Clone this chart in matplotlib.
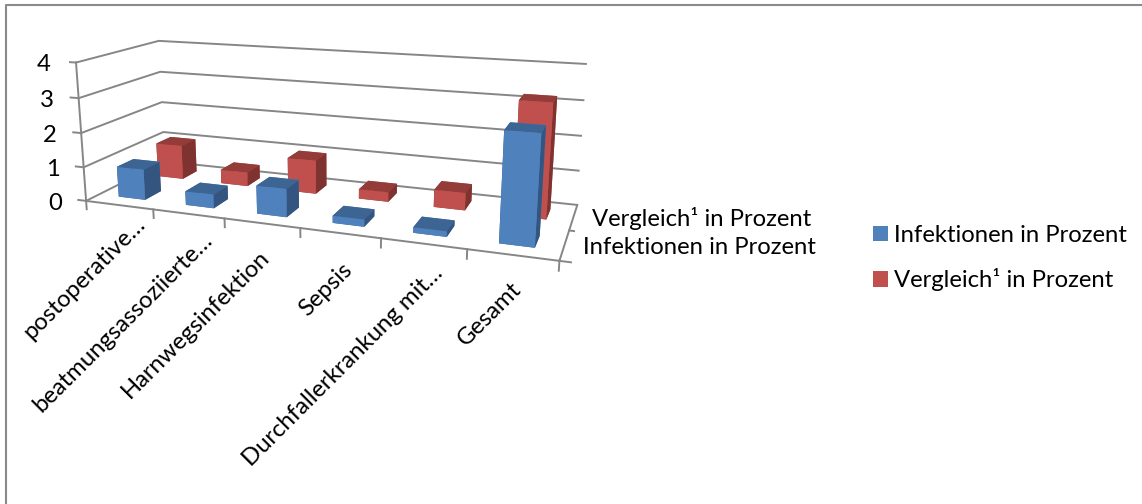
import numpy as np
import matplotlib
matplotlib.use('Agg')
import matplotlib.pyplot as plt
from matplotlib.lines import Line2D
from matplotlib.patches import Patch
from matplotlib.transforms import ScaledTranslation

plt.rcParams['font.family'] = ['Lato', 'DejaVu Sans']

categories = ['postoperative…', 'beatmungsassoziierte…', 'Harnwegsinfektion', 'Sepsis',
              'Durchfallerkrankung mit…', 'Gesamt']
series_names = ['Infektionen in Prozent', 'Vergleich¹ in Prozent']
infektionen = [0.9, 0.4, 0.8, 0.2, 0.15, 2.9]
vergleich = [1.05, 0.42, 1.0, 0.28, 0.5, 3.2]
z_ticks = [0, 1, 2, 3, 4]

W, H = 1142, 504
GRID = '#868686'
FS = 17.2

fig = plt.figure(figsize=(W/100, H/100), dpi=100)
ax = fig.add_subplot(projection='3d', computed_zorder=False)
ax.set_xlim(0, 6, view_margin=0)
ax.set_ylim(0, 2, view_margin=0)
ax.set_zlim(0, 4, view_margin=0)
ax.set_autoscale_on(False)
ax.view_init(14.1780, -69.6297, 0.1821)
ax.set_proj_type('persp', focal_length=0.3288)
ax.set_box_aspect((4.5085, 1.4935, 1.3646))
ax.set_position([69.2660/W, 109.6457/H, 506.1305/W, 506.1305/H])
ax.patch.set_visible(False)

for axis in (ax.xaxis, ax.yaxis, ax.zaxis):
    axis.set_pane_color((1, 1, 1, 0))
    axis.pane.set_edgecolor((1, 1, 1, 0))
    axis._axinfo['tick']['inward_factor'] = 0
    axis._axinfo['tick']['outward_factor'] = 0
    axis._axinfo['grid']['color'] = (1, 1, 1, 0)
    axis.line.set_color(GRID)
    axis.line.set_linewidth(1.4)
ax.zaxis._axinfo['grid'].update(color=GRID, linewidth=1.4)
ax.zaxis.set_ticks_position('lower')

xc = np.arange(len(categories))
ax.set_xticks(xc + 0.5, categories, rotation=45, ha='right', va='top', rotation_mode='anchor', fontsize=FS)
ax.set_yticks([0.5, 1.5], series_names, ha='left', va='center', fontsize=FS)
ax.set_zticks(z_ticks, [str(v) for v in z_ticks], fontsize=FS)
ax.tick_params(axis='x', pad=6)
ax.tick_params(axis='y', pad=6)
ax.tick_params(axis='z', pad=8)

def nudge(axis, offsets):
    """Shift tick labels by (dx, dy) pixels, dy upwards."""
    for tick, (dx, dy) in zip(axis.get_major_ticks(), offsets):
        tr = ScaledTranslation(dx/100, dy/100, fig.dpi_scale_trans)
        # Axis3D resets label transforms on every draw, so offset at read time
        tick.label1.get_transform = lambda tr=tr: ax.transData + tr

nudge(ax.xaxis, [(21, 5), (19, -1), (2, -9), (6, -11), (12, -3), (1, -7)])
nudge(ax.yaxis, [(-22, 14), (-18, 13)])
nudge(ax.zaxis, [(10, 8)]*5)

# tick marks sit on category boundaries, so they are drawn separately
for x in range(len(categories)+1):
    ax.plot([x, x], [0, 0], [0, -0.25], color=GRID, lw=1.4, zorder=1)
for y in range(3):
    ax.plot([6, 6.12], [y, y], [0, 0], color=GRID, lw=1.4, zorder=1)
for z in z_ticks:
    ax.plot([0, -0.12], [0, 0], [z, z], color=GRID, lw=1.4, zorder=1)

def faces(front, top, side):
    return [top, top, front, front, side, side]

styles = [('#4F81BD', '#3D6594', '#34557F'), ('#C0504D', '#943C3A', '#7F3331')]
for j, (vals, st) in enumerate(zip((infektionen, vergleich), styles)):
    ax.bar3d(xc + 0.3, np.full(len(xc), j + 0.3), 0, 0.4, 0.4, vals,
             color=faces(*st)*len(xc), shade=False, zorder=5-j, edgecolor='none')

handles = [Patch(facecolor=styles[0][0]), Patch(facecolor=styles[1][0])]
fig.legend(handles, series_names, loc='upper left', bbox_to_anchor=(873/W, 1-225/H), frameon=False,
           fontsize=FS, handlelength=0.64, handleheight=0.64, handletextpad=0.25, labelspacing=0.94,
           borderaxespad=0, borderpad=0)

fig.add_artist(Line2D([6/W, 6/W, 1], [0, 1-5/H, 1-5/H], color='#8A8A8A', lw=1.5))
fig.savefig('out.png', dpi=100)
